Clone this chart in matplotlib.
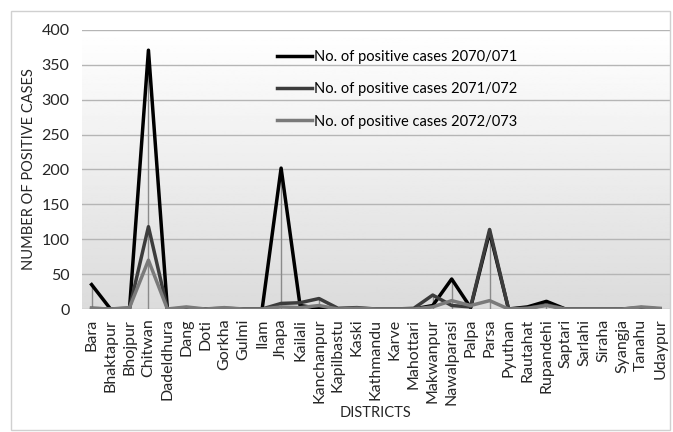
import numpy as np
import matplotlib.pyplot as plt
from matplotlib.patches import Rectangle

districts = ['Bara', 'Bhaktapur', 'Bhojpur', 'Chitwan', 'Dadeldhura', 'Dang', 'Doti',
             'Gorkha', 'Gulmi', 'Ilam', 'Jhapa', 'Kailali', 'Kanchanpur', 'Kapilbastu',
             'Kaski', 'Kathmandu', 'Karve', 'Mahottari', 'Makwanpur', 'Nawalparasi',
             'Palpa', 'Parsa', 'Pyuthan', 'Rautahat', 'Rupandehi', 'Saptari', 'Sarlahi',
             'Siraha', 'Syangja', 'Tanahu', 'Udaypur']

cases_2070 = [35, 0, 0, 371, 0, 0, 0, 0, 0, 0, 202, 5, 1, 0, 0, 0, 0, 0, 5, 43,
              2, 110, 0, 3, 11, 0, 0, 0, 0, 0, 0]
cases_2071 = [1, 0, 1, 118, 0, 1, 0, 1, 0, 0, 8, 9, 15, 1, 2, 0, 0, 1, 20, 5,
              3, 114, 0, 1, 6, 0, 0, 0, 0, 2, 0]
cases_2072 = [1, 0, 2, 70, 0, 3, 0, 2, 0, 0, 3, 2, 5, 0, 1, 0, 0, 0, 3, 12,
              5, 12, 0, 1, 5, 0, 0, 0, 0, 3, 1]

series = [
    ('No. of positive cases 2070/071', cases_2070, '#000000'),
    ('No. of positive cases 2071/072', cases_2071, '#3c3c3c'),
    ('No. of positive cases 2072/073', cases_2072, '#7a7a7a'),
]

plt.rcParams['font.family'] = ['Lato', 'DejaVu Sans']

fig = plt.figure(figsize=(6.73, 4.32), dpi=100)
fig.patches.append(Rectangle((0.016, 0.005), 0.98, 0.97, transform=fig.transFigure,
                             fill=False, edgecolor='#d0d0d0', linewidth=1))
ax = fig.add_axes([0.122, 0.2847, 0.873, 0.6459])

x = np.arange(len(districts))

# soft vertical gradient behind the plot
grad = np.linspace(1.0, 0.86, 256).reshape(-1, 1)
ax.imshow(grad, cmap='gray', vmin=0, vmax=1, aspect='auto',
          extent=[0, 1, 0, 1], transform=ax.transAxes, zorder=0)

ax.set_xlim(-0.5, len(districts) - 0.5)
ax.set_ylim(0, 400)
ax.set_yticks(range(0, 401, 50))
ax.yaxis.grid(True, color='#b5b5b5', linewidth=1)
ax.set_axisbelow(True)

# drop lines from the highest value down to the axis
top = np.max([cases_2070, cases_2071, cases_2072], axis=0)
ax.vlines(x, 0, top, color='#8a8a8a', linewidth=1, zorder=2)

for label, vals, color in series:
    ax.plot(x, vals, color=color, linewidth=2.5, label=label, zorder=3)

for s in ax.spines.values():
    s.set_visible(False)
ax.tick_params(length=0, colors='#262626')
ax.tick_params(axis='y', labelsize=11.5, pad=9)
ax.tick_params(axis='x', labelsize=11.5, pad=7)
ax.set_xticks(x)
ax.set_xticklabels(districts, rotation=90)

ax.set_ylabel('NUMBER OF POSITIVE CASES', fontsize=10.5, color='#262626', labelpad=4)
ax.set_xlabel('DISTRICTS', fontsize=10.5, color='#262626', labelpad=1)

ax.legend(loc='upper left', bbox_to_anchor=(0.31, 0.975), frameon=False,
          fontsize=10.5, labelspacing=1.25, handlelength=2.4, handletextpad=0.1)

fig.savefig('out.png', dpi=100)
